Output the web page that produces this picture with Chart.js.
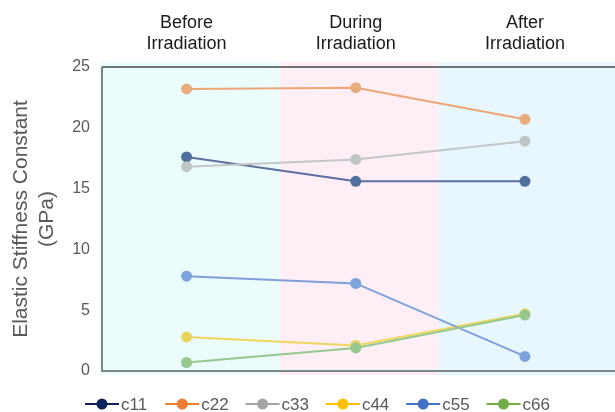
<!DOCTYPE html>
<html>
<head>
<meta charset="utf-8">
<script src="https://cdn.jsdelivr.net/npm/chart.js@4.4.1/dist/chart.umd.min.js"></script>
<style>
  html, body { margin: 0; padding: 0; background: #fff; }
  #wrap { width: 615px; height: 412px; }
</style>
</head>
<body>
<div id="wrap"><canvas id="myChart"></canvas></div>
<script>
var stages = [["Before", "Irradiation"], ["During", "Irradiation"], ["After", "Irradiation"]];
var names = ["c11", "c22", "c33", "c44", "c55", "c66"];

var c11 = [17.6, 15.6, 15.6];
var c22 = [23.2, 23.3, 20.7];
var c33 = [16.8, 17.4, 18.9];
var c44 = [2.8, 2.1, 4.7];
var c55 = [7.8, 7.2, 1.2];
var c66 = [0.7, 1.9, 4.6];

var yTicks = [0, 5, 10, 15, 20, 25];

var lineColors = ["#5d6f9f", "#eea678", "#c3c7c7", "#efd65c", "#7f9fdc", "#94c88c"];
var pointColors = ["#4f6f9d", "#e9ac7e", "#bec6c6", "#ead35c", "#7ea2dc", "#96c88e"];
var legendColors = ["#0f2259", "#ed7d31", "#a5a5a5", "#ffc000", "#4472c4", "#70ad47"];

var series = [c11, c22, c33, c44, c55, c66];
var FONT = "'Liberation Sans', Arial, sans-serif";

var datasets = [];
for (var i = 0; i < series.length; i++) {
    datasets.push({
        label: names[i],
        data: series[i],
        borderColor: lineColors[i],
        backgroundColor: pointColors[i],
        pointBackgroundColor: pointColors[i],
        pointBorderWidth: 0,
        pointRadius: 5.5,
        borderWidth: 2,
        fill: false,
        order: series.length - i
    });
}

// background bands + frame lines
var bands = {
    id: "bands",
    beforeDatasetsDraw: function(chart) {
        var a = chart.chartArea;
        var ctx = chart.ctx;
        var w = a.right - a.left;
        var x1 = a.left + w * 0.351;
        var x2 = a.left + w * 0.663;
        ctx.save();
        ctx.fillStyle = "#eafcfb";
        ctx.fillRect(a.left - 2, a.top - 5, x1 - a.left + 2, a.bottom - a.top + 9);
        ctx.fillStyle = "#fdeff5";
        ctx.fillRect(x1, a.top - 5, x2 - x1, a.bottom - a.top + 9);
        ctx.fillStyle = "#e8f6fd";
        ctx.fillRect(x2, a.top - 5, chart.width - x2, a.bottom - a.top + 9);
        ctx.strokeStyle = "#7a8884";
        ctx.lineWidth = 2;
        ctx.beginPath();
        ctx.moveTo(a.left, a.top);
        ctx.lineTo(a.left, a.bottom);
        ctx.lineTo(chart.width, a.bottom);
        ctx.stroke();
        ctx.strokeStyle = "#6f7475";
        ctx.beginPath();
        ctx.moveTo(a.left, a.top);
        ctx.lineTo(chart.width, a.top);
        ctx.stroke();
        ctx.restore();
    }
};

// legend: line with a dot, then the name
var legendLine = {
    id: "legendLine",
    afterDraw: function(chart) {
        var ctx = chart.ctx;
        var y = 404;
        ctx.save();
        ctx.font = "17px " + FONT;
        ctx.textBaseline = "middle";
        for (var i = 0; i < names.length; i++) {
            var x = 85 + i * 80.3;
            ctx.strokeStyle = legendColors[i];
            ctx.fillStyle = legendColors[i];
            ctx.lineWidth = 2;
            ctx.beginPath();
            ctx.moveTo(x, y);
            ctx.lineTo(x + 34, y);
            ctx.stroke();
            ctx.beginPath();
            ctx.arc(x + 17, y, 5.5, 0, Math.PI * 2);
            ctx.fill();
            ctx.fillStyle = "#595959";
            ctx.fillText(names[i], x + 36, y + 1);
        }
        ctx.restore();
    }
};

var ctx = document.getElementById("myChart").getContext("2d");
var chart = new Chart(ctx, {
    type: "line",
    data: {
        labels: stages,
        datasets: datasets
    },
    plugins: [bands, legendLine],
    options: {
        responsive: true,
        maintainAspectRatio: false,
        animation: false,
        layout: { padding: { left: 0, right: 0, top: 0, bottom: 41 } },
        scales: {
            x: {
                position: "top",
                offset: true,
                grid: { display: false, drawTicks: false },
                border: { display: false },
                ticks: {
                    color: "#1a1a1a",
                    font: { size: 18, family: FONT },
                    padding: 12,
                    maxRotation: 0
                },
                afterFit: function(s) { s.height = 67; }
            },
            y: {
                min: 0,
                max: 25,
                afterBuildTicks: function(s) {
                    s.ticks = yTicks.map(function(v) { return { value: v }; });
                },
                grid: { display: false, drawTicks: false },
                border: { display: false },
                ticks: {
                    color: "#595959",
                    font: { size: 16, family: FONT },
                    padding: 12
                },
                title: {
                    display: true,
                    text: ["Elastic Stiffness Constant", "(GPa)"],
                    color: "#595959",
                    font: { size: 21, family: FONT },
                    padding: { top: 9, bottom: 0 }
                },
                afterFit: function(s) { s.width = 102; }
            }
        },
        plugins: {
            legend: { display: false },
            tooltip: { enabled: false }
        }
    }
});
</script>
</body>
</html>
